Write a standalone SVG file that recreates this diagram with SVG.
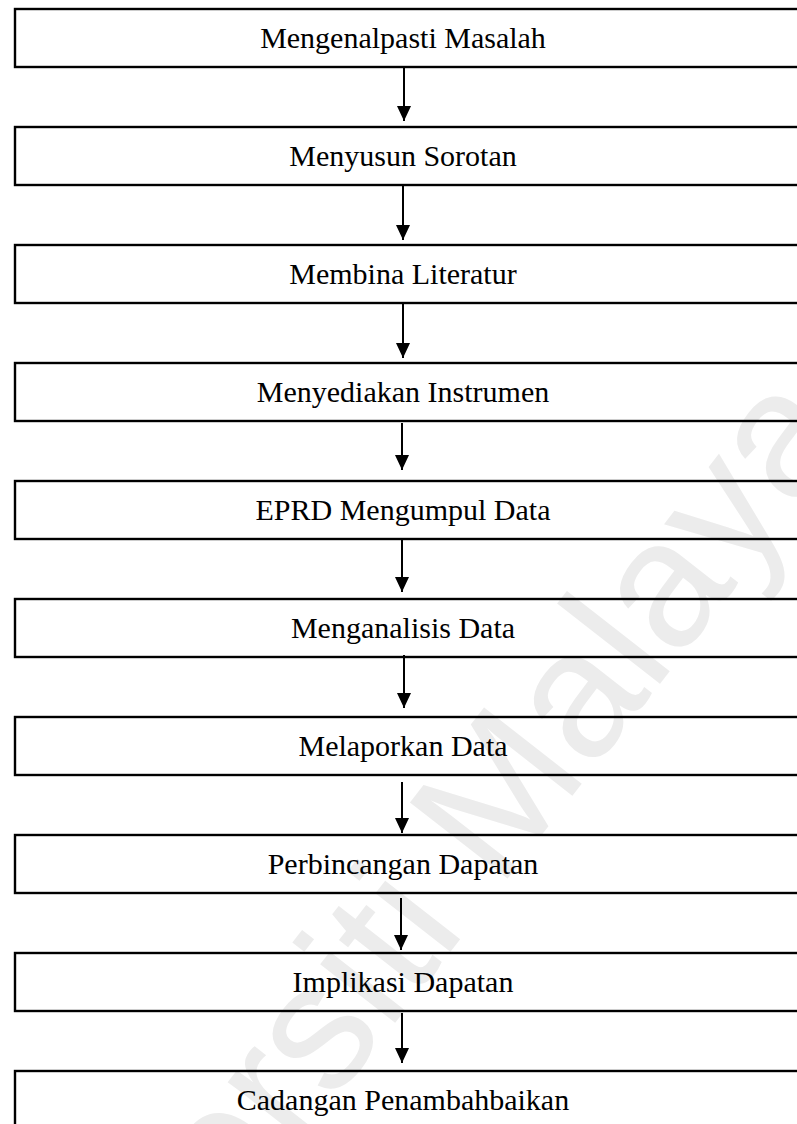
<svg xmlns="http://www.w3.org/2000/svg" width="797" height="1124" viewBox="0 0 797 1124">
<style>
.box{fill:none;stroke:#000;stroke-width:2.4}
.lbl{font-family:"Liberation Serif","Times New Roman",serif;font-size:30px;fill:#000;text-anchor:middle}
.con{stroke:#000;stroke-width:2;fill:none;marker-end:url(#ah)}
.wm{font-family:"Liberation Sans",Arial,sans-serif;font-size:180px;fill:#ececec}
</style>
<defs>
<marker id="ah" markerUnits="userSpaceOnUse" markerWidth="15" markerHeight="14" refX="15" refY="7" orient="auto">
<path d="M0,0 L15,7 L0,14 z" fill="#000"/>
</marker>
</defs>
<rect x="0" y="0" width="797" height="1124" fill="#fff"/>
<text class="wm" transform="translate(12,1513) rotate(-52)">Universiti Malaya</text>
<g id="n1"><rect class="box" x="15" y="9" width="800" height="58"/><text class="lbl" x="403" y="48">Mengenalpasti Masalah</text></g>
<g id="n2"><rect class="box" x="15" y="127" width="800" height="58"/><text class="lbl" x="403" y="166">Menyusun Sorotan</text></g>
<g id="n3"><rect class="box" x="15" y="245" width="800" height="58"/><text class="lbl" x="403" y="284">Membina Literatur</text></g>
<g id="n4"><rect class="box" x="15" y="363" width="800" height="58"/><text class="lbl" x="403" y="402">Menyediakan Instrumen</text></g>
<g id="n5"><rect class="box" x="15" y="481" width="800" height="58"/><text class="lbl" x="403" y="520">EPRD Mengumpul Data</text></g>
<g id="n6"><rect class="box" x="15" y="599" width="800" height="58"/><text class="lbl" x="403" y="638">Menganalisis Data</text></g>
<g id="n7"><rect class="box" x="15" y="717" width="800" height="58"/><text class="lbl" x="403" y="756">Melaporkan Data</text></g>
<g id="n8"><rect class="box" x="15" y="835" width="800" height="58"/><text class="lbl" x="403" y="874">Perbincangan Dapatan</text></g>
<g id="n9"><rect class="box" x="15" y="953" width="800" height="58"/><text class="lbl" x="403" y="992">Implikasi Dapatan</text></g>
<g id="n10"><rect class="box" x="15" y="1071" width="800" height="80"/><text class="lbl" x="403" y="1110">Cadangan Penambahbaikan</text></g>
<g id="connectors">
<path class="con" d="M404,67 L404,121"/>
<path class="con" d="M403,185 L403,240"/>
<path class="con" d="M403,303 L403,358"/>
<path class="con" d="M402,423 L402,470"/>
<path class="con" d="M402,540 L402,592"/>
<path class="con" d="M404,655 L404,708"/>
<path class="con" d="M402,782 L402,833"/>
<path class="con" d="M401,898 L401,950"/>
<path class="con" d="M402,1013 L402,1063"/>
</g>
</svg>
